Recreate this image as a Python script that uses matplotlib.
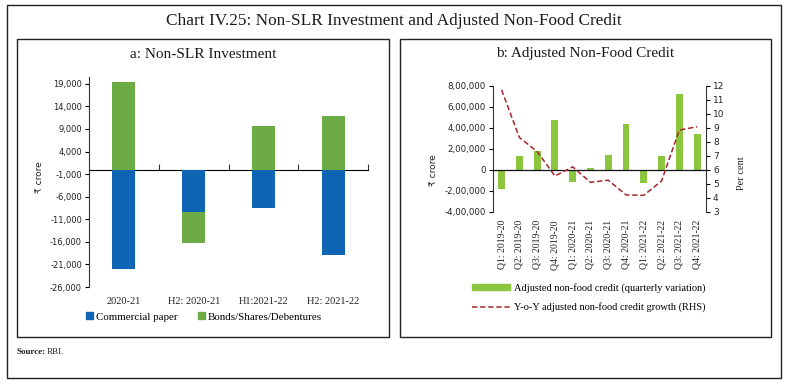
import matplotlib
matplotlib.use("Agg")
import matplotlib.pyplot as plt
from matplotlib.patches import Rectangle, Patch
from matplotlib.lines import Line2D
from matplotlib.ticker import FuncFormatter
import numpy as np

# ---------------- data ----------------
periods_a = ["2020-21", "H2: 2020-21", "H1:2021-22", "H2: 2021-22"]
commercial_paper = [-22000, -9400, -8400, -18850]
bonds_shares_debentures = [19400, -6800, 9700, 11900]
yticks_a = [-26000, -21000, -16000, -11000, -6000, -1000, 4000, 9000, 14000, 19000]

quarters = ["Q1: 2019-20", "Q2: 2019-20", "Q3: 2019-20", "Q4: 2019-20",
            "Q1: 2020-21", "Q2: 2020-21", "Q3: 2020-21", "Q4: 2020-21",
            "Q1: 2021-22", "Q2: 2021-22", "Q3: 2021-22", "Q4: 2021-22"]
nfc_variation = [-184000, 130000, 178000, 473000, -121000, 13000,
                 137000, 435000, -127000, 127000, 721000, 340000]
nfc_growth = [11.7, 8.3, 7.3, 5.55, 6.2, 5.1, 5.25, 4.2, 4.17, 5.2, 8.83, 9.07]
yticks_b_left = [-400000, -200000, 0, 200000, 400000, 600000, 800000]
yticks_b_right = [3, 4, 5, 6, 7, 8, 9, 10, 11, 12]

# ---------------- style ----------------
W, H = 788, 385
BLUE = "#0E65B4"
GREEN_A = "#6DAC45"
GREEN_B = "#8CC63F"
RED = "#A8242B"
SERIF = ["Liberation Serif", "DejaVu Serif"]
SANS = ["DejaVu Sans", "Noto Sans"]


def fx(px):
    return px / W


def fy(py):
    return 1 - py / H


def indian(v, pos=None):
    n = int(round(v))
    sign = "-" if n < 0 else ""
    s = str(abs(n))
    if len(s) > 3:
        head, tail = s[:-3], s[-3:]
        groups = []
        while len(head) > 2:
            groups.insert(0, head[-2:])
            head = head[:-2]
        if head:
            groups.insert(0, head)
        s = ",".join(groups + [tail])
    return sign + s


def western(v, pos=None):
    return f"{int(round(v)):,}"


fig = plt.figure(figsize=(W / 100, H / 100), dpi=100)
fig.patch.set_facecolor("white")

# frames
for (x0, y0, x1, y1, lw) in [(7, 5, 781, 378, 1.0), (17, 39, 389, 337, 1.0), (400, 39, 771, 337, 1.0)]:
    fig.add_artist(Rectangle((fx(x0), fy(y1)), fx(x1) - fx(x0), fy(y0) - fy(y1),
                             transform=fig.transFigure, fill=False, edgecolor="#222222", lw=lw))

fig.text(fx(394), fy(21), "Chart IV.25: Non-SLR Investment and Adjusted Non-Food Credit",
         ha="center", va="center", fontsize=12.4, family=SERIF, color="#1a1a1a")
fig.text(fx(203), fy(54), "a: Non-SLR Investment", ha="center", va="center",
         fontsize=11, family=SERIF, color="#1a1a1a")
fig.text(fx(585), fy(54), "b: Adjusted Non-Food Credit", ha="center", va="center",
         fontsize=11, family=SERIF, color="#1a1a1a")
fig.text(fx(17), fy(352), "Source:", ha="left", va="center", fontsize=6.5,
         family=SERIF, weight="bold", color="#222222")
fig.text(fx(47), fy(352), "RBI.", ha="left", va="center", fontsize=6.5,
         family=SERIF, color="#222222")

# ---------------- panel a ----------------
axa = fig.add_axes([fx(89), fy(287), fx(368) - fx(89), fy(77) - fy(287)])
xa = np.arange(len(periods_a))
cp = np.array(commercial_paper, dtype=float)
bs = np.array(bonds_shares_debentures, dtype=float)
bottom_bs = np.where(bs >= 0, 0.0, np.minimum(cp, 0.0))
bw = 0.33
axa.bar(xa, cp, width=bw, color=BLUE, label="Commercial paper", zorder=2)
axa.bar(xa, bs, bottom=bottom_bs, width=bw, color=GREEN_A,
        label="Bonds/Shares/Debentures", zorder=2)
ymin_a, ymax_a = -26000, 20500
axa.set_ylim(ymin_a, ymax_a)
axa.set_xlim(-0.5, len(periods_a) - 0.5)
axa.set_yticks(yticks_a)
axa.yaxis.set_major_formatter(FuncFormatter(western))
axa.set_xticks(xa)
axa.set_xticklabels(periods_a, fontsize=7.5, family=SERIF, color="#222222")
axa.tick_params(axis="x", length=0, pad=7)
axa.tick_params(axis="y", length=3, width=0.8, labelsize=6, labelcolor="#222222",
                direction="out", pad=2)
for lab in axa.get_yticklabels():
    lab.set_family(SANS)
for s in ["top", "right", "bottom"]:
    axa.spines[s].set_visible(False)
axa.spines["left"].set_linewidth(0.8)
axa.spines["left"].set_color("#333333")
axa.set_facecolor("none")
zero_frac = (0 - ymin_a) / (ymax_a - ymin_a)
sec = axa.secondary_xaxis(zero_frac)
sec.set_xticks(np.arange(len(periods_a)) + 0.5)
sec.set_xticklabels([])
sec.tick_params(direction="out", length=4, width=0.8, color="#333333")
sec.spines["bottom"].set_linewidth(0.9)
sec.spines["bottom"].set_color("#111111")
fig.text(fx(40), fy(177), "₹ crore", rotation=90, ha="center", va="center",
         fontsize=6.5, family=SANS, color="#222222")

leg_a = fig.legend(handles=[Patch(color=BLUE, label="Commercial paper"),
                            Patch(color=GREEN_A, label="Bonds/Shares/Debentures")],
                   loc="center", bbox_to_anchor=(fx(204), fy(317)), ncol=2, frameon=False,
                   prop={"family": SERIF, "size": 7.9}, handlelength=0.6, handleheight=0.6,
                   handletextpad=0.25, columnspacing=1.9, borderpad=0)

# ---------------- panel b ----------------
axb = fig.add_axes([fx(492.7), fy(211.7), fx(706) - fx(492.7), fy(85.7) - fy(211.7)])
xb = np.arange(len(quarters))
axb.bar(xb, nfc_variation, width=0.39, color=GREEN_B, zorder=2)
axb.axhline(0, color="#111111", lw=0.9, zorder=3)
axb.set_ylim(-400000, 800000)
axb.set_xlim(-0.5, len(quarters) - 0.5)
axb.set_yticks(yticks_b_left)
axb.yaxis.set_major_formatter(FuncFormatter(indian))
axb.set_xticks(xb)
axb.set_xticklabels(quarters, rotation=90, fontsize=7, family=SERIF, color="#222222")
axb.tick_params(axis="x", length=0, pad=6)
axb.tick_params(axis="y", length=3, width=0.8, labelsize=6.2, labelcolor="#222222", pad=2)
for lab in axb.get_yticklabels():
    lab.set_family(SANS)
for s in ["top", "right", "bottom"]:
    axb.spines[s].set_visible(False)
axb.spines["left"].set_linewidth(0.8)
axb.spines["left"].set_color("#333333")
axb.set_facecolor("none")

axr = axb.twinx()
axr.plot(xb, nfc_growth, color=RED, lw=1.1, dashes=(3.5, 1.8), zorder=4)
axr.set_ylim(3, 12)
axr.set_yticks(yticks_b_right)
axr.tick_params(axis="y", length=3, width=0.8, labelsize=6.5, labelcolor="#222222", pad=2)
for lab in axr.get_yticklabels():
    lab.set_family(SANS)
for s in ["top", "left", "bottom"]:
    axr.spines[s].set_visible(False)
axr.spines["right"].set_linewidth(0.8)
axr.spines["right"].set_color("#333333")

fig.text(fx(433), fy(170), "₹ crore", rotation=90, ha="center", va="center",
         fontsize=6.5, family=SANS, color="#222222")
fig.text(fx(742), fy(173), "Per cent", rotation=90, ha="center", va="center",
         fontsize=7.5, family=SERIF, color="#222222")

leg_b = fig.legend(handles=[Patch(color=GREEN_B, label="Adjusted non-food credit (quarterly variation)"),
                            Line2D([], [], color=RED, lw=1.1, dashes=(3.5, 1.8),
                                   label="Y-o-Y adjusted non-food credit growth (RHS)")],
                   loc="upper left", bbox_to_anchor=(fx(472), fy(283)), ncol=1, frameon=False,
                   prop={"family": SERIF, "size": 7.5}, handlelength=3.6, handleheight=0.5,
                   handletextpad=0.4, labelspacing=0.9, borderpad=0, borderaxespad=0)

fig.savefig("out.png", dpi=100, facecolor="white")
